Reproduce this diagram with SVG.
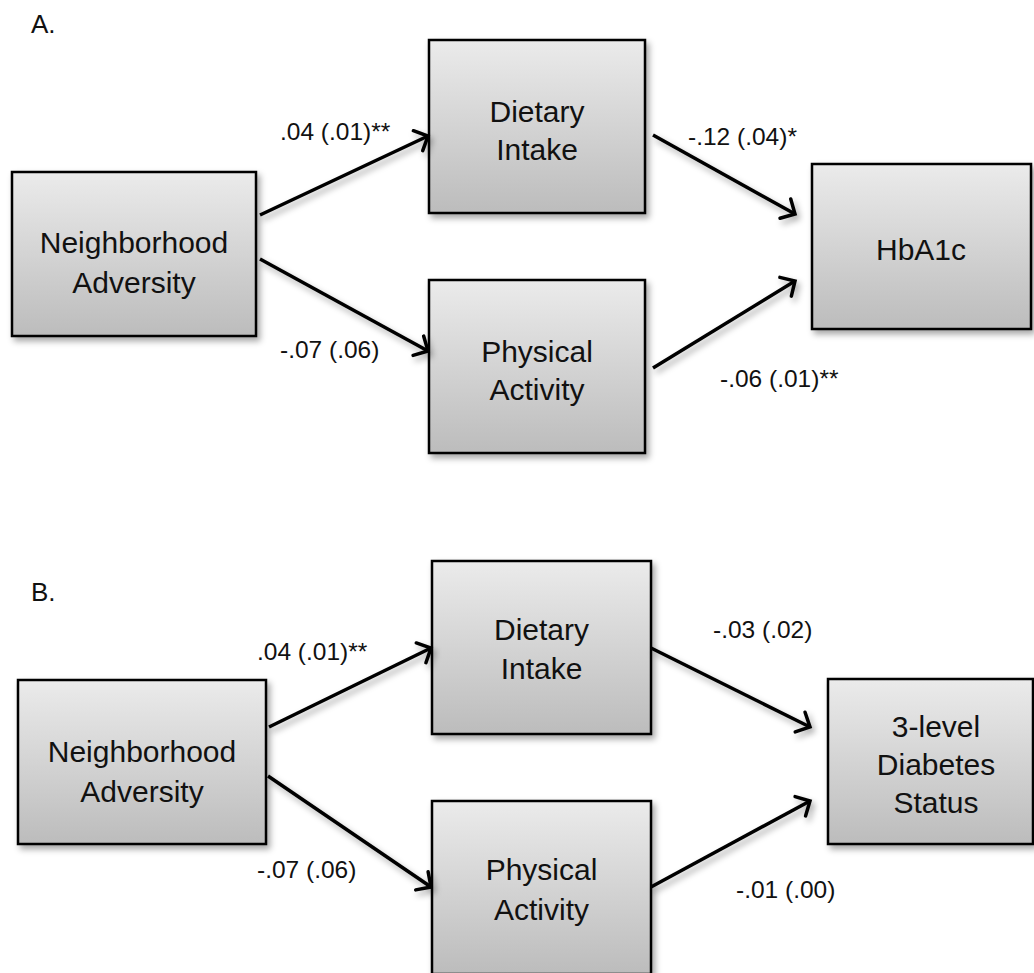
<svg xmlns="http://www.w3.org/2000/svg" width="1034" height="973" viewBox="0 0 1034 973">
  <defs>
    <linearGradient id="boxFill" x1="0" y1="0" x2="0" y2="1">
      <stop offset="0" stop-color="#ebebeb"/>
      <stop offset="1" stop-color="#bcbcbc"/>
    </linearGradient>
    <filter id="shadow" x="-10%" y="-10%" width="130%" height="130%">
      <feDropShadow dx="3" dy="4" stdDeviation="3" flood-color="#000" flood-opacity="0.35"/>
    </filter>
    <marker id="arrow" markerUnits="userSpaceOnUse" viewBox="-14 -14 18 28" refX="0" refY="0" markerWidth="18" markerHeight="28" orient="auto" overflow="visible">
      <path d="M-11,-11 L0,0 L-11,11" fill="none" stroke="#000" stroke-width="3.5" stroke-linecap="round" stroke-linejoin="miter"/>
    </marker>
  </defs>
  <style>
    .box { fill: url(#boxFill); stroke: #000; stroke-width: 2.5; filter: url(#shadow); }
    .node { font-family: "Liberation Sans", Arial, sans-serif; font-size: 30px; fill: #111; text-anchor: middle; }
    .lbl { font-family: "Liberation Sans", Arial, sans-serif; font-size: 24.5px; fill: #111; }
    .panel { font-family: "Liberation Sans", Arial, sans-serif; font-size: 26px; fill: #111; }
    .edge { stroke: #000; stroke-width: 3.5; fill: none; marker-end: url(#arrow); }
  </style>

  <rect width="1034" height="973" fill="#fff"/>

  <!-- Panel A -->
  <text class="panel" x="31" y="33">A.</text>

  <g id="a-neighborhood">
    <rect class="box" x="12" y="172" width="244" height="164"/>
    <text class="node" x="134" y="253">Neighborhood</text>
    <text class="node" x="134" y="293">Adversity</text>
  </g>
  <g id="a-dietary">
    <rect class="box" x="429" y="40" width="216" height="173"/>
    <text class="node" x="537" y="122">Dietary</text>
    <text class="node" x="537" y="160">Intake</text>
  </g>
  <g id="a-physical">
    <rect class="box" x="429" y="280" width="216" height="173"/>
    <text class="node" x="537" y="362">Physical</text>
    <text class="node" x="537" y="400">Activity</text>
  </g>
  <g id="a-hba1c">
    <rect class="box" x="812" y="164" width="219" height="165"/>
    <text class="node" x="921" y="260">HbA1c</text>
  </g>

  <g id="a-connectors" filter="url(#shadow)">
    <line class="edge" x1="260" y1="215" x2="428" y2="136"/>
    <line class="edge" x1="260" y1="259" x2="428" y2="351"/>
    <line class="edge" x1="653" y1="135" x2="795" y2="214"/>
    <line class="edge" x1="653" y1="368" x2="795" y2="281"/>
  </g>
  <g id="a-labels">
    <text class="lbl" x="280" y="140">.04 (.01)**</text>
    <text class="lbl" x="280" y="358">-.07 (.06)</text>
    <text class="lbl" x="688" y="145">-.12 (.04)*</text>
    <text class="lbl" x="720" y="387">-.06 (.01)**</text>
  </g>

  <!-- Panel B -->
  <text class="panel" x="31" y="601">B.</text>

  <g id="b-neighborhood">
    <rect class="box" x="18" y="680" width="248" height="164"/>
    <text class="node" x="142" y="762">Neighborhood</text>
    <text class="node" x="142" y="802">Adversity</text>
  </g>
  <g id="b-dietary">
    <rect class="box" x="432" y="561" width="219" height="173"/>
    <text class="node" x="541.5" y="640">Dietary</text>
    <text class="node" x="541.5" y="679">Intake</text>
  </g>
  <g id="b-physical">
    <rect class="box" x="432" y="801" width="219" height="173"/>
    <text class="node" x="541.5" y="880">Physical</text>
    <text class="node" x="541.5" y="920">Activity</text>
  </g>
  <g id="b-diabetes">
    <rect class="box" x="828" y="679" width="205" height="165"/>
    <text class="node" x="936" y="737">3-level</text>
    <text class="node" x="936" y="775">Diabetes</text>
    <text class="node" x="936" y="813">Status</text>
  </g>

  <g id="b-connectors" filter="url(#shadow)">
    <line class="edge" x1="269" y1="727" x2="431" y2="648"/>
    <line class="edge" x1="268" y1="776" x2="431" y2="887"/>
    <line class="edge" x1="651" y1="648" x2="810" y2="727"/>
    <line class="edge" x1="651" y1="887" x2="810" y2="801"/>
  </g>
  <g id="b-labels">
    <text class="lbl" x="257" y="660">.04 (.01)**</text>
    <text class="lbl" x="257" y="878">-.07 (.06)</text>
    <text class="lbl" x="713" y="638">-.03 (.02)</text>
    <text class="lbl" x="736" y="898">-.01 (.00)</text>
  </g>
</svg>
